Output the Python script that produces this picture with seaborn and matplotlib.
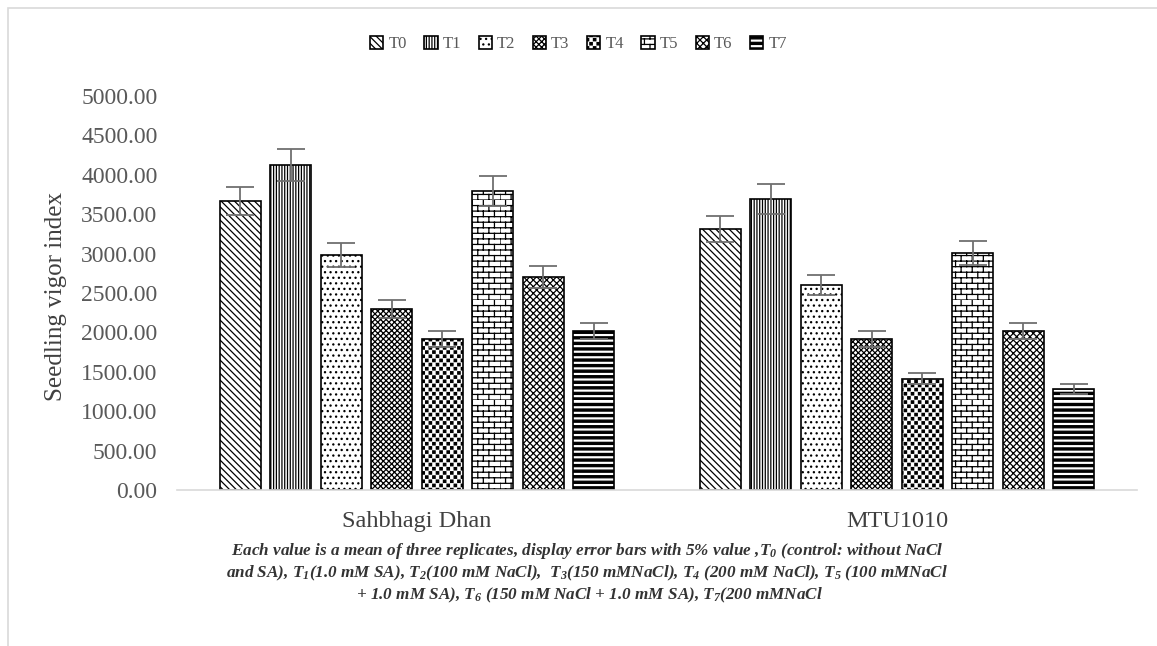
import warnings
import numpy as np
import pandas as pd
import matplotlib
matplotlib.use("Agg")
import matplotlib.pyplot as plt
import matplotlib.hatch as mhatch
from matplotlib.path import Path
import seaborn as sns

warnings.filterwarnings("ignore")

# dados
variedades = ["Sahbhagi Dhan", "MTU1010"]
tratamentos = ["T0", "T1", "T2", "T3", "T4", "T5", "T6", "T7"]
sahbhagi = [3667, 4124, 2982, 2297, 1916, 3794, 2703, 2018]
mtu1010 = [3312, 3693, 2601, 1916, 1409, 3008, 2018, 1282]
erro_sahbhagi = [183, 206, 149, 115, 96, 190, 135, 101]
erro_mtu1010 = [166, 185, 130, 96, 70, 150, 101, 64]
hachuras = ["\\\\\\\\\\", "||||||", "...", "xxxxxx", "s", "bbb", "xxxxx", "hhh"]


# hachuras extras: tijolo (b), quadrados (s), listras grossas (h)
class Tijolo(mhatch.HatchPatternBase):
    def __init__(self, hatch, density):
        self.nr = hatch.count('b') * density
        self.nc = self.nr // 2
        self.num_vertices = (self.nr + self.nr * self.nc) * 2

    def set_vertices_and_codes(self, vertices, codes):
        v = []
        for i in range(self.nr):
            y = i / self.nr
            v += [(0, y), (1, y)]
        for i in range(self.nr):
            y0, y1 = i / self.nr, (i + 1) / self.nr
            for j in range(self.nc):
                x = (j + 0.5 * (i % 2)) / self.nc
                v += [(x, y0), (x, y1)]
        vertices[:] = np.array(v)
        codes[0::2] = Path.MOVETO
        codes[1::2] = Path.LINETO


class Quadrados(mhatch.HatchPatternBase):
    def __init__(self, hatch, density):
        if 's' in hatch:
            self.nc, self.nr = 14, 24
        else:
            self.nc, self.nr = 0, 0
        self.num_vertices = self.nc * self.nr * 5

    def set_vertices_and_codes(self, vertices, codes):
        lado = 0.012
        v = []
        for r in range(self.nr):
            y = (r + 0.5) / self.nr
            for c in range(self.nc):
                x = (c + 0.25 + 0.5 * (r % 2)) / self.nc
                v += [(x - lado, y - lado), (x + lado, y - lado), (x + lado, y + lado),
                      (x - lado, y + lado), (x - lado, y - lado)]
        vertices[:] = np.array(v)
        codes[:] = np.tile([Path.MOVETO, Path.LINETO, Path.LINETO,
                            Path.LINETO, Path.CLOSEPOLY], self.nc * self.nr)


class Listras(mhatch.HatchPatternBase):
    def __init__(self, hatch, density):
        self.n = hatch.count('h') * density
        self.num_vertices = self.n * 5

    def set_vertices_and_codes(self, vertices, codes):
        v = []
        for i in range(self.n):
            y0 = i / self.n
            y1 = y0 + 0.38 / self.n
            v += [(0, y0), (1, y0), (1, y1), (0, y1), (0, y0)]
        vertices[:] = np.array(v)
        codes[:] = np.tile([Path.MOVETO, Path.LINETO, Path.LINETO,
                            Path.LINETO, Path.CLOSEPOLY], self.n)


mhatch._hatch_types.extend([Tijolo, Quadrados, Listras])
mhatch._validate_hatch_pattern = lambda h: None

sns.set_theme(style="white")
plt.rcParams['font.family'] = ['Liberation Serif', 'DejaVu Serif']
plt.rcParams['hatch.linewidth'] = 0.9
plt.rcParams['mathtext.fontset'] = 'custom'
plt.rcParams['mathtext.rm'] = 'Liberation Serif:bold:italic'
plt.rcParams['mathtext.it'] = 'Liberation Serif:bold:italic'
plt.rcParams['mathtext.bf'] = 'Liberation Serif:bold:italic'

df = pd.DataFrame({
    "variedade": np.repeat(variedades, len(tratamentos)),
    "tratamento": tratamentos * 2,
    "valor": sahbhagi + mtu1010,
})

fig = plt.figure(figsize=(11.57, 6.46), dpi=100)
ax = fig.add_axes([177 / 1157, 1 - 490 / 646, 960 / 1157, 394 / 646])

sns.barplot(data=df, x="variedade", y="valor", hue="tratamento",
            palette=["white"] * 8, edgecolor="black", linewidth=1.2,
            width=0.842, gap=0.19, legend=False, ax=ax)

barras_por_trat = list(ax.containers)
erros = [erro_sahbhagi, erro_mtu1010]
for i, cont in enumerate(barras_por_trat):
    for j, barra in enumerate(cont.patches):
        barra.set_hatch(hachuras[i])
        xc = barra.get_x() + barra.get_width() / 2
        ax.errorbar(xc, barra.get_height(), yerr=erros[j][i], color="#6f6f6f",
                    capsize=10, elinewidth=1.3, capthick=1.3, zorder=5)

ax.set_xlim(-0.5, 1.5)
ax.set_ylim(0, 5000)
ax.set_yticks(np.arange(0, 5001, 500))
ax.set_yticklabels([f"{v:.2f}" for v in np.arange(0, 5001, 500)])
ax.tick_params(axis='y', length=0, pad=14, labelsize=17, labelcolor="#595959")
ax.tick_params(axis='x', length=0, pad=15, labelsize=17.5, labelcolor="#404040")
for s in ["left", "top", "right"]:
    ax.spines[s].set_visible(False)
ax.spines["bottom"].set_color("#d9d9d9")
ax.spines["bottom"].set_linewidth(1.2)
ax.set_xlabel("")
ax.set_ylabel("Seedling vigor index", fontsize=18, color="#404040")
ax.yaxis.set_label_coords(-0.1146, 0.49)

handles = [c.patches[0] for c in barras_por_trat]
fig.legend(handles, tratamentos, loc="center", bbox_to_anchor=(0.5, 1 - 44 / 646),
           ncol=8, frameon=False, fontsize=12, handlelength=0.8, handleheight=0.8,
           handletextpad=0.3, columnspacing=1.05, labelcolor="#595959")

# legenda de rodapé
estilo = dict(ha="center", va="center", fontsize=12.3, fontweight="bold",
              fontstyle="italic", color="#333333")
fig.text(587 / 1157, 1 - 551 / 646,
         "Each value is a mean of three replicates, display error bars with 5% value ,T$_0$ (control: without NaCl",
         **estilo)
fig.text(587 / 1157, 1 - 573 / 646,
         "and SA), T$_1$(1.0 mM SA), T$_2$(100 mM NaCl),  T$_3$(150 mMNaCl), T$_4$ (200 mM NaCl), T$_5$ (100 mMNaCl",
         **estilo)
fig.text(590 / 1157, 1 - 595 / 646,
         "+ 1.0 mM SA), T$_6$ (150 mM NaCl + 1.0 mM SA), T$_7$(200 mMNaCl",
         **estilo)

# moldura cinza
fig.add_artist(plt.Rectangle((8 / 1157, -0.05), 1.2, 1.05 - 8 / 646,
                             transform=fig.transFigure, fill=False,
                             edgecolor="#d9d9d9", linewidth=1.2))

fig.savefig("out.png", dpi=100)
